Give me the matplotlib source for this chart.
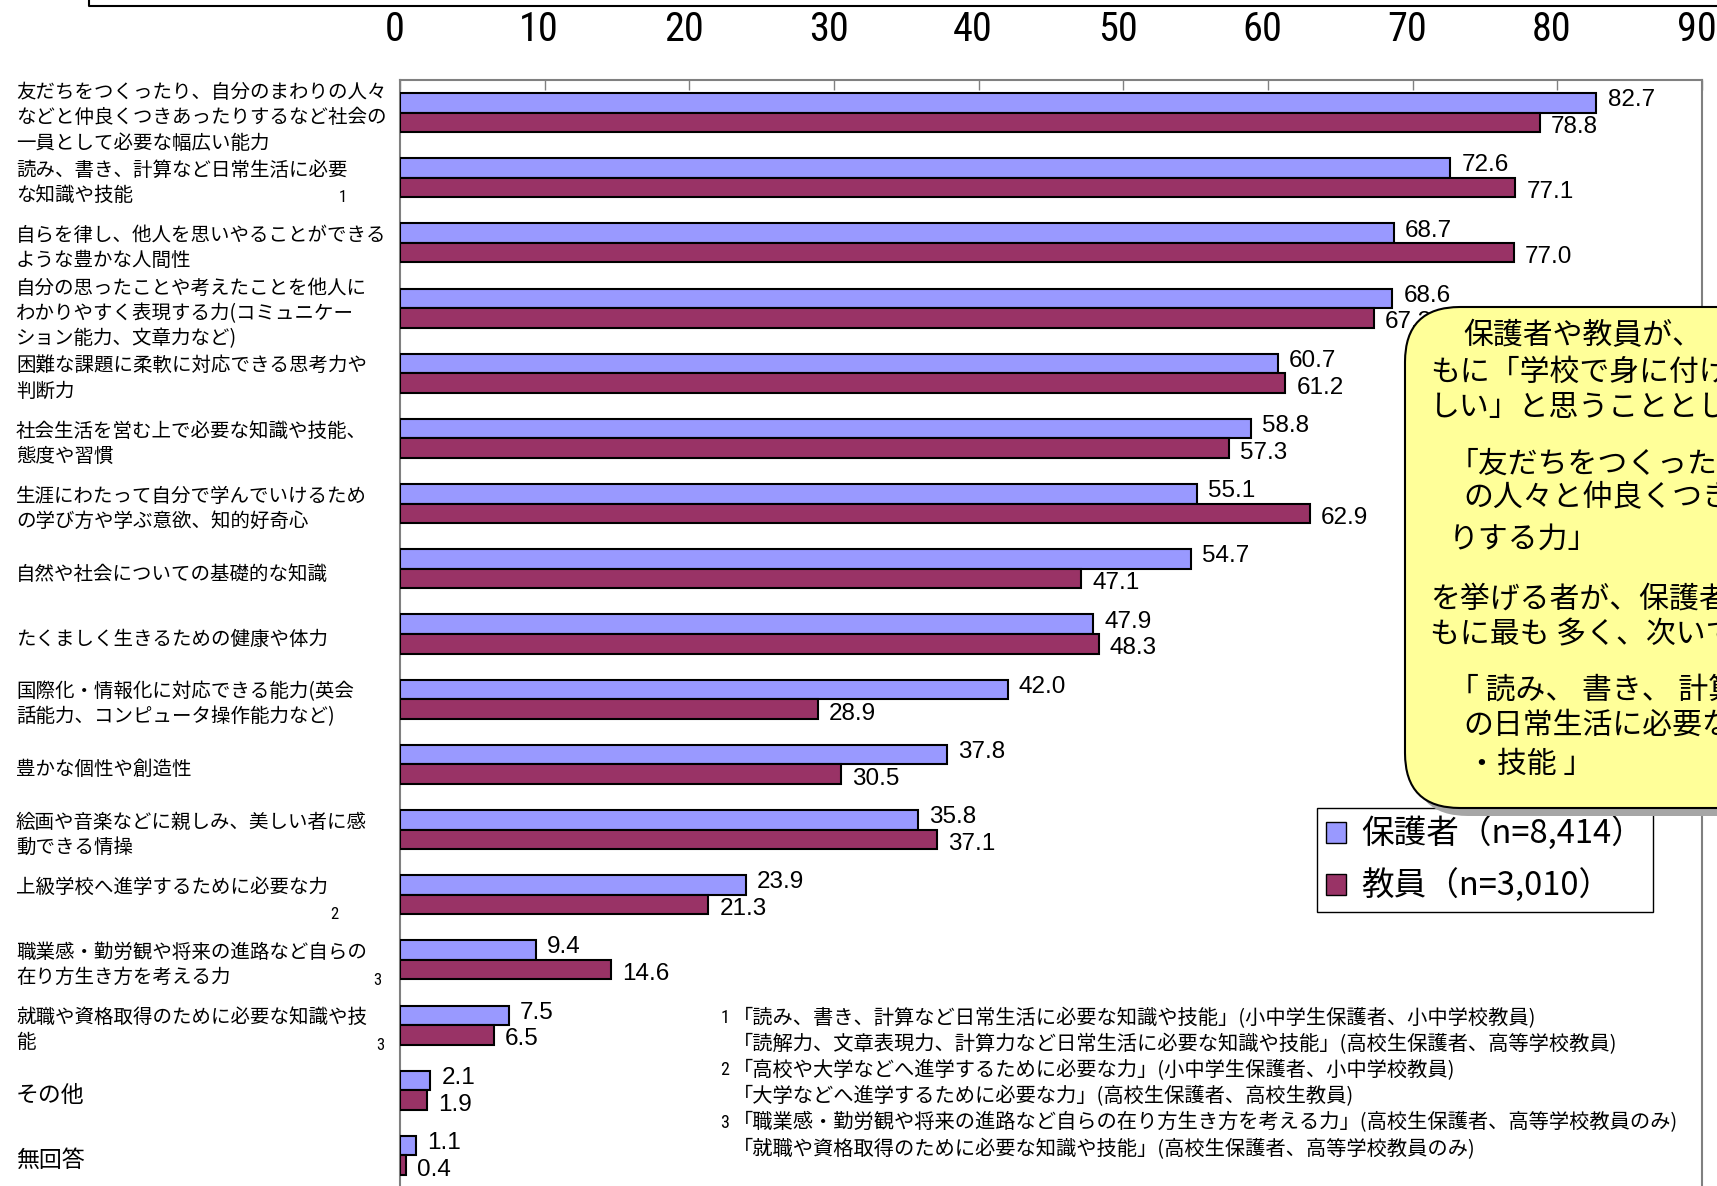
import matplotlib
matplotlib.use("Agg")
import matplotlib.pyplot as plt
from matplotlib import font_manager
from matplotlib.patches import FancyBboxPatch, Patch
from matplotlib.transforms import blended_transform_factory, ScaledTranslation
import numpy as np

# 項目（学校で身に付けてほしいこと）
categories = [
    "友だちをつくったり、自分のまわりの人々\nなどと仲良くつきあったりするなど社会の\n一員として必要な幅広い能力",
    "読み、書き、計算など日常生活に必要\nな知識や技能",
    "自らを律し、他人を思いやることができる\nような豊かな人間性",
    "自分の思ったことや考えたことを他人に\nわかりやすく表現する力(コミュニケー\nション能力、文章力など)",
    "困難な課題に柔軟に対応できる思考力や\n判断力",
    "社会生活を営む上で必要な知識や技能、\n態度や習慣",
    "生涯にわたって自分で学んでいけるため\nの学び方や学ぶ意欲、知的好奇心",
    "自然や社会についての基礎的な知識",
    "たくましく生きるための健康や体力",
    "国際化・情報化に対応できる能力(英会\n話能力、コンピュータ操作能力など)",
    "豊かな個性や創造性",
    "絵画や音楽などに親しみ、美しい者に感\n動できる情操",
    "上級学校へ進学するために必要な力\n",
    "職業感・勤労観や将来の進路など自らの\n在り方生き方を考える力",
    "就職や資格取得のために必要な知識や技\n能",
    "その他",
    "無回答",
]
parents = [82.7, 72.6, 68.7, 68.6, 60.7, 58.8, 55.1, 54.7, 47.9, 42.0,
           37.8, 35.8, 23.9, 9.4, 7.5, 2.1, 1.1]
teachers = [78.8, 77.1, 77.0, 67.3, 61.2, 57.3, 62.9, 47.1, 48.3, 28.9,
            30.5, 37.1, 21.3, 14.6, 6.5, 1.9, 0.4]
series_names = ["保護者（n=8,414）", "教員（n=3,010）"]
x_ticks = list(range(0, 91, 10))

# 注番号（項目番号, 記号, x位置px）
note_marks = [(1, "1", 343), (12, "2", 334), (13, "3", 377), (14, "3", 380)]

footnotes = [
    ("1", "「読み、書き、計算など日常生活に必要な知識や技能」(小中学生保護者、小中学校教員)"),
    ("", "「読解力、文章表現力、計算力など日常生活に必要な知識や技能」(高校生保護者、高等学校教員)"),
    ("2", "「高校や大学などへ進学するために必要な力」(小中学生保護者、小中学校教員)"),
    ("", "「大学などへ進学するために必要な力」(高校生保護者、高校生教員)"),
    ("3", "「職業感・勤労観や将来の進路など自らの在り方生き方を考える力」(高校生保護者、高等学校教員のみ)"),
    ("", "「就職や資格取得のために必要な知識や技能」(高校生保護者、高等学校教員のみ)"),
]

# 吹き出しの文章 (x, y, 文)
callout_lines = [
    (1463, 336, "保護者や教員が、"),
    (1430, 372, "もに「学校で身に付けて"),
    (1430, 407, "しい」と思うこととして"),
    (1449, 464, "「友だちをつくったり、自分"),
    (1463, 498, "の人々と仲良くつきあった"),
    (1449, 539, "りする力」"),
    (1430, 600, "を挙げる者が、保護者・教員と"),
    (1430, 635, "もに最も 多く、次いで「"),
    (1449, 690, "「 読み、 書き、 計算など"),
    (1463, 725, "の日常生活に必要な知識"),
    (1467, 764, "・技能 」"),
]

CJK = "Noto Sans CJK JP"
plt.rcParams["font.family"] = [CJK, "DejaVu Sans"]
names = {f.name for f in font_manager.fontManager.ttflist}
num_font = next((n for n in ["Liberation Sans Narrow", "Arial Narrow", "Roboto Condensed"]
                 if n in names), "Liberation Sans")

W, H = 1717, 1186
fig = plt.figure(figsize=(W / 100, H / 100), dpi=100)
ax = fig.add_axes([400 / W, 1 - 1188 / H, 1302 / W, 1108 / H])

y = np.arange(len(categories))
h = 0.3
c_par, c_tea = "#9999FF", "#993366"
ax.barh(y - h / 2, parents, height=h, color=c_par, edgecolor="black", linewidth=1.5, zorder=3)
ax.barh(y + h / 2, teachers, height=h, color=c_tea, edgecolor="black", linewidth=1.5, zorder=3)

ax.set_xlim(0, 90)
ax.set_ylim(len(categories) - 0.5, -0.5)
ax.xaxis.tick_top()
ax.set_xticks(x_ticks)
ax.tick_params(axis="x", direction="in", length=7, width=1, color="#808080",
               pad=22, labelsize=29, labelfontfamily=num_font)
shift = ScaledTranslation(-0.055, 0, fig.dpi_scale_trans)
for lbl in ax.get_xticklabels():
    lbl.set_transform(lbl.get_transform() + shift)
ax.set_yticks([])
for s in ax.spines.values():
    s.set_color("#808080")
    s.set_linewidth(1.5)

# 数値ラベル
for i, (p, t) in enumerate(zip(parents, teachers)):
    ax.annotate(f"{p:.1f}", (p, i - 0.19), xytext=(8, 0), textcoords="offset points",
                ha="left", va="center", fontsize=17.5, family="Liberation Sans", zorder=4)
    ax.annotate(f"{t:.1f}", (t, i + 0.22), xytext=(8, 0), textcoords="offset points",
                ha="left", va="center", fontsize=17.5, family="Liberation Sans", zorder=4)

# 項目名
trans = blended_transform_factory(fig.transFigure, ax.transData)
for i, label in enumerate(categories):
    size = 16.5 if len(label) <= 3 else 14
    ax.text(16 / W, i + 0.08, label, transform=trans, ha="left", va="center",
            fontsize=size, linespacing=1.27)
for idx, mark, xp in note_marks:
    ax.text(xp / W, idx + 0.31, mark, transform=trans, ha="center", va="center",
            fontsize=12, family=num_font)

# 凡例
handles = [Patch(facecolor=c_par, edgecolor="black", linewidth=1),
           Patch(facecolor=c_tea, edgecolor="black", linewidth=1)]
leg = fig.legend(handles, series_names, loc="upper left",
                 bbox_to_anchor=(1317 / W, 1 - 808 / H), bbox_transform=fig.transFigure,
                 frameon=True, fancybox=False, edgecolor="black", framealpha=1,
                 borderpad=0.28, labelspacing=0.55, handlelength=0.62, handleheight=0.62,
                 handletextpad=0.45, borderaxespad=0, prop={"family": CJK, "size": 23.5})
leg.get_frame().set_linewidth(1)

# 重ね描き用（ピクセル座標）
ov = fig.add_axes([0, 0, 1, 1], zorder=10)
ov.set_xlim(0, W)
ov.set_ylim(H, 0)
ov.axis("off")

ov.plot([89, 89, W], [0, 6, 6], color="black", lw=1.5, clip_on=False)

box_x, box_y, box_w, box_h = 1405, 307, 420, 501
ov.add_patch(FancyBboxPatch((box_x + 8, box_y + 8), box_w, box_h,
                            boxstyle="round,pad=0,rounding_size=55",
                            fc="#A6A6A6", ec="none"))
ov.add_patch(FancyBboxPatch((box_x, box_y), box_w, box_h,
                            boxstyle="round,pad=0,rounding_size=55",
                            fc="#FFFF99", ec="black", lw=1.5))
for x, yy, s in callout_lines:
    ov.text(x, yy, s, ha="left", va="center", fontsize=21.5, clip_on=True)

for k, (mark, text) in enumerate(footnotes):
    yy = 1018 + 26.2 * k
    if mark:
        ov.text(725, yy, mark, ha="center", va="center", fontsize=13, family=num_font)
    ov.text(733, yy, text, ha="left", va="center", fontsize=14.6)

fig.savefig("out.png", dpi=100)
